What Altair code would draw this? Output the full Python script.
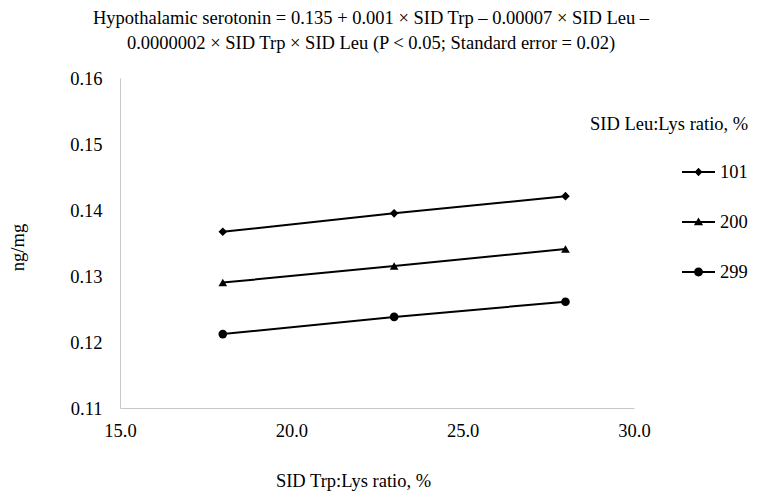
import altair as alt
import pandas as pd

trp = [18, 23, 28]
leu_levels = ["101", "200", "299"]
leu101 = [0.1367, 0.1395, 0.1421]
leu200 = [0.1290, 0.1315, 0.1341]
leu299 = [0.1212, 0.1238, 0.1261]
x_ticks = [15, 20, 25, 30]
y_ticks = [0.11, 0.12, 0.13, 0.14, 0.15, 0.16]

rows = []
for lev, vals in zip(leu_levels, [leu101, leu200, leu299]):
    for t, v in zip(trp, vals):
        rows.append({"trp": t, "serotonin": v, "leu": lev})
df = pd.DataFrame(rows)

FONT = "'Liberation Serif', 'Times New Roman', 'DejaVu Serif', serif"
FS = 18.5
marker_shapes = ["diamond", "triangle-up", "circle"]
legend_paths = [
    "M-1,-0.06H1V0.06H-1Z M0,-0.26L0.24,0L0,0.26L-0.24,0Z",
    "M-1,-0.06H1V0.06H-1Z M0,-0.28L0.28,0.2L-0.28,0.2Z",
    "M-1,-0.06H1V0.06H-1Z M-0.27,0A0.27,0.27 0 1,1 0.27,0A0.27,0.27 0 1,1 -0.27,0Z",
]

x = alt.X("trp:Q", title="SID Trp:Lys ratio, %",
          scale=alt.Scale(domain=[15, 30], nice=False, zero=False),
          axis=alt.Axis(values=x_ticks, format=".1f", grid=False, ticks=False,
                        labelFlush=False,
                        domainColor="#c8c8c8", labelPadding=13,
                        titleX=233, titleY=72, titleAlign="center",
                        titleBaseline="middle"))
y = alt.Y("serotonin:Q", title="ng/mg",
          scale=alt.Scale(domain=[0.11, 0.16], nice=False, zero=False),
          axis=alt.Axis(values=y_ticks, format=".2f", grid=False, ticks=False,
                        labelFlush=False,
                        domainColor="#c8c8c8", labelPadding=18,
                        titleX=-103, titleY=169, titleAngle=270,
                        titleBaseline="middle", titleAlign="center"))

base = alt.Chart(df)
lines = base.mark_line(color="black", strokeWidth=2).encode(
    x=x, y=y, detail="leu:N")
points = base.mark_point(filled=True, color="black", opacity=1, size=75).encode(
    x=x, y=y,
    shape=alt.Shape("leu:N", scale=alt.Scale(domain=leu_levels, range=marker_shapes),
                    legend=None))
legend_layer = base.mark_point(filled=True, color="black", opacity=0, size=1089).encode(
    x=x, y=y,
    shape=alt.Shape("leu2:N", scale=alt.Scale(domain=leu_levels, range=legend_paths),
                    legend=alt.Legend(title="SID Leu:Lys ratio, %", orient="none",
                                      legendX=470, legendY=37,
                                      symbolOpacity=1, symbolSize=1089,
                                      symbolFillColor="black",
                                      symbolOffset=91, labelOffset=4,
                                      rowPadding=23, titlePadding=21,
                                      labelFontSize=FS, titleFontSize=FS,
                                      titleFontWeight="normal",
                                      labelFont=FONT, titleFont=FONT,
                                      labelColor="black", titleColor="black"))
).transform_calculate(leu2="datum.leu")

chart = alt.layer(lines, points, legend_layer).resolve_scale(shape="independent").properties(
    width=514, height=330,
    autosize=alt.AutoSizeParams(type="none"),
    padding={"left": 112, "top": 70, "right": 120, "bottom": 83},
    title=alt.Title(
        text=["Hypothalamic serotonin = 0.135 + 0.001 × SID Trp – 0.00007 × SID Leu –",
              "0.0000002 × SID Trp × SID Leu (P < 0.05; Standard error = 0.02)"],
        font=FONT, fontSize=FS, fontWeight="normal", color="black",
        anchor="middle", lineHeight=25, offset=17, dx=-6),
).configure_view(stroke=None).configure_axis(
    labelFont=FONT, titleFont=FONT, labelFontSize=FS, titleFontSize=FS,
    titleFontWeight="normal", labelColor="black", titleColor="black")

chart.save("out.html", embed_options={"renderer": "svg", "actions": False})
